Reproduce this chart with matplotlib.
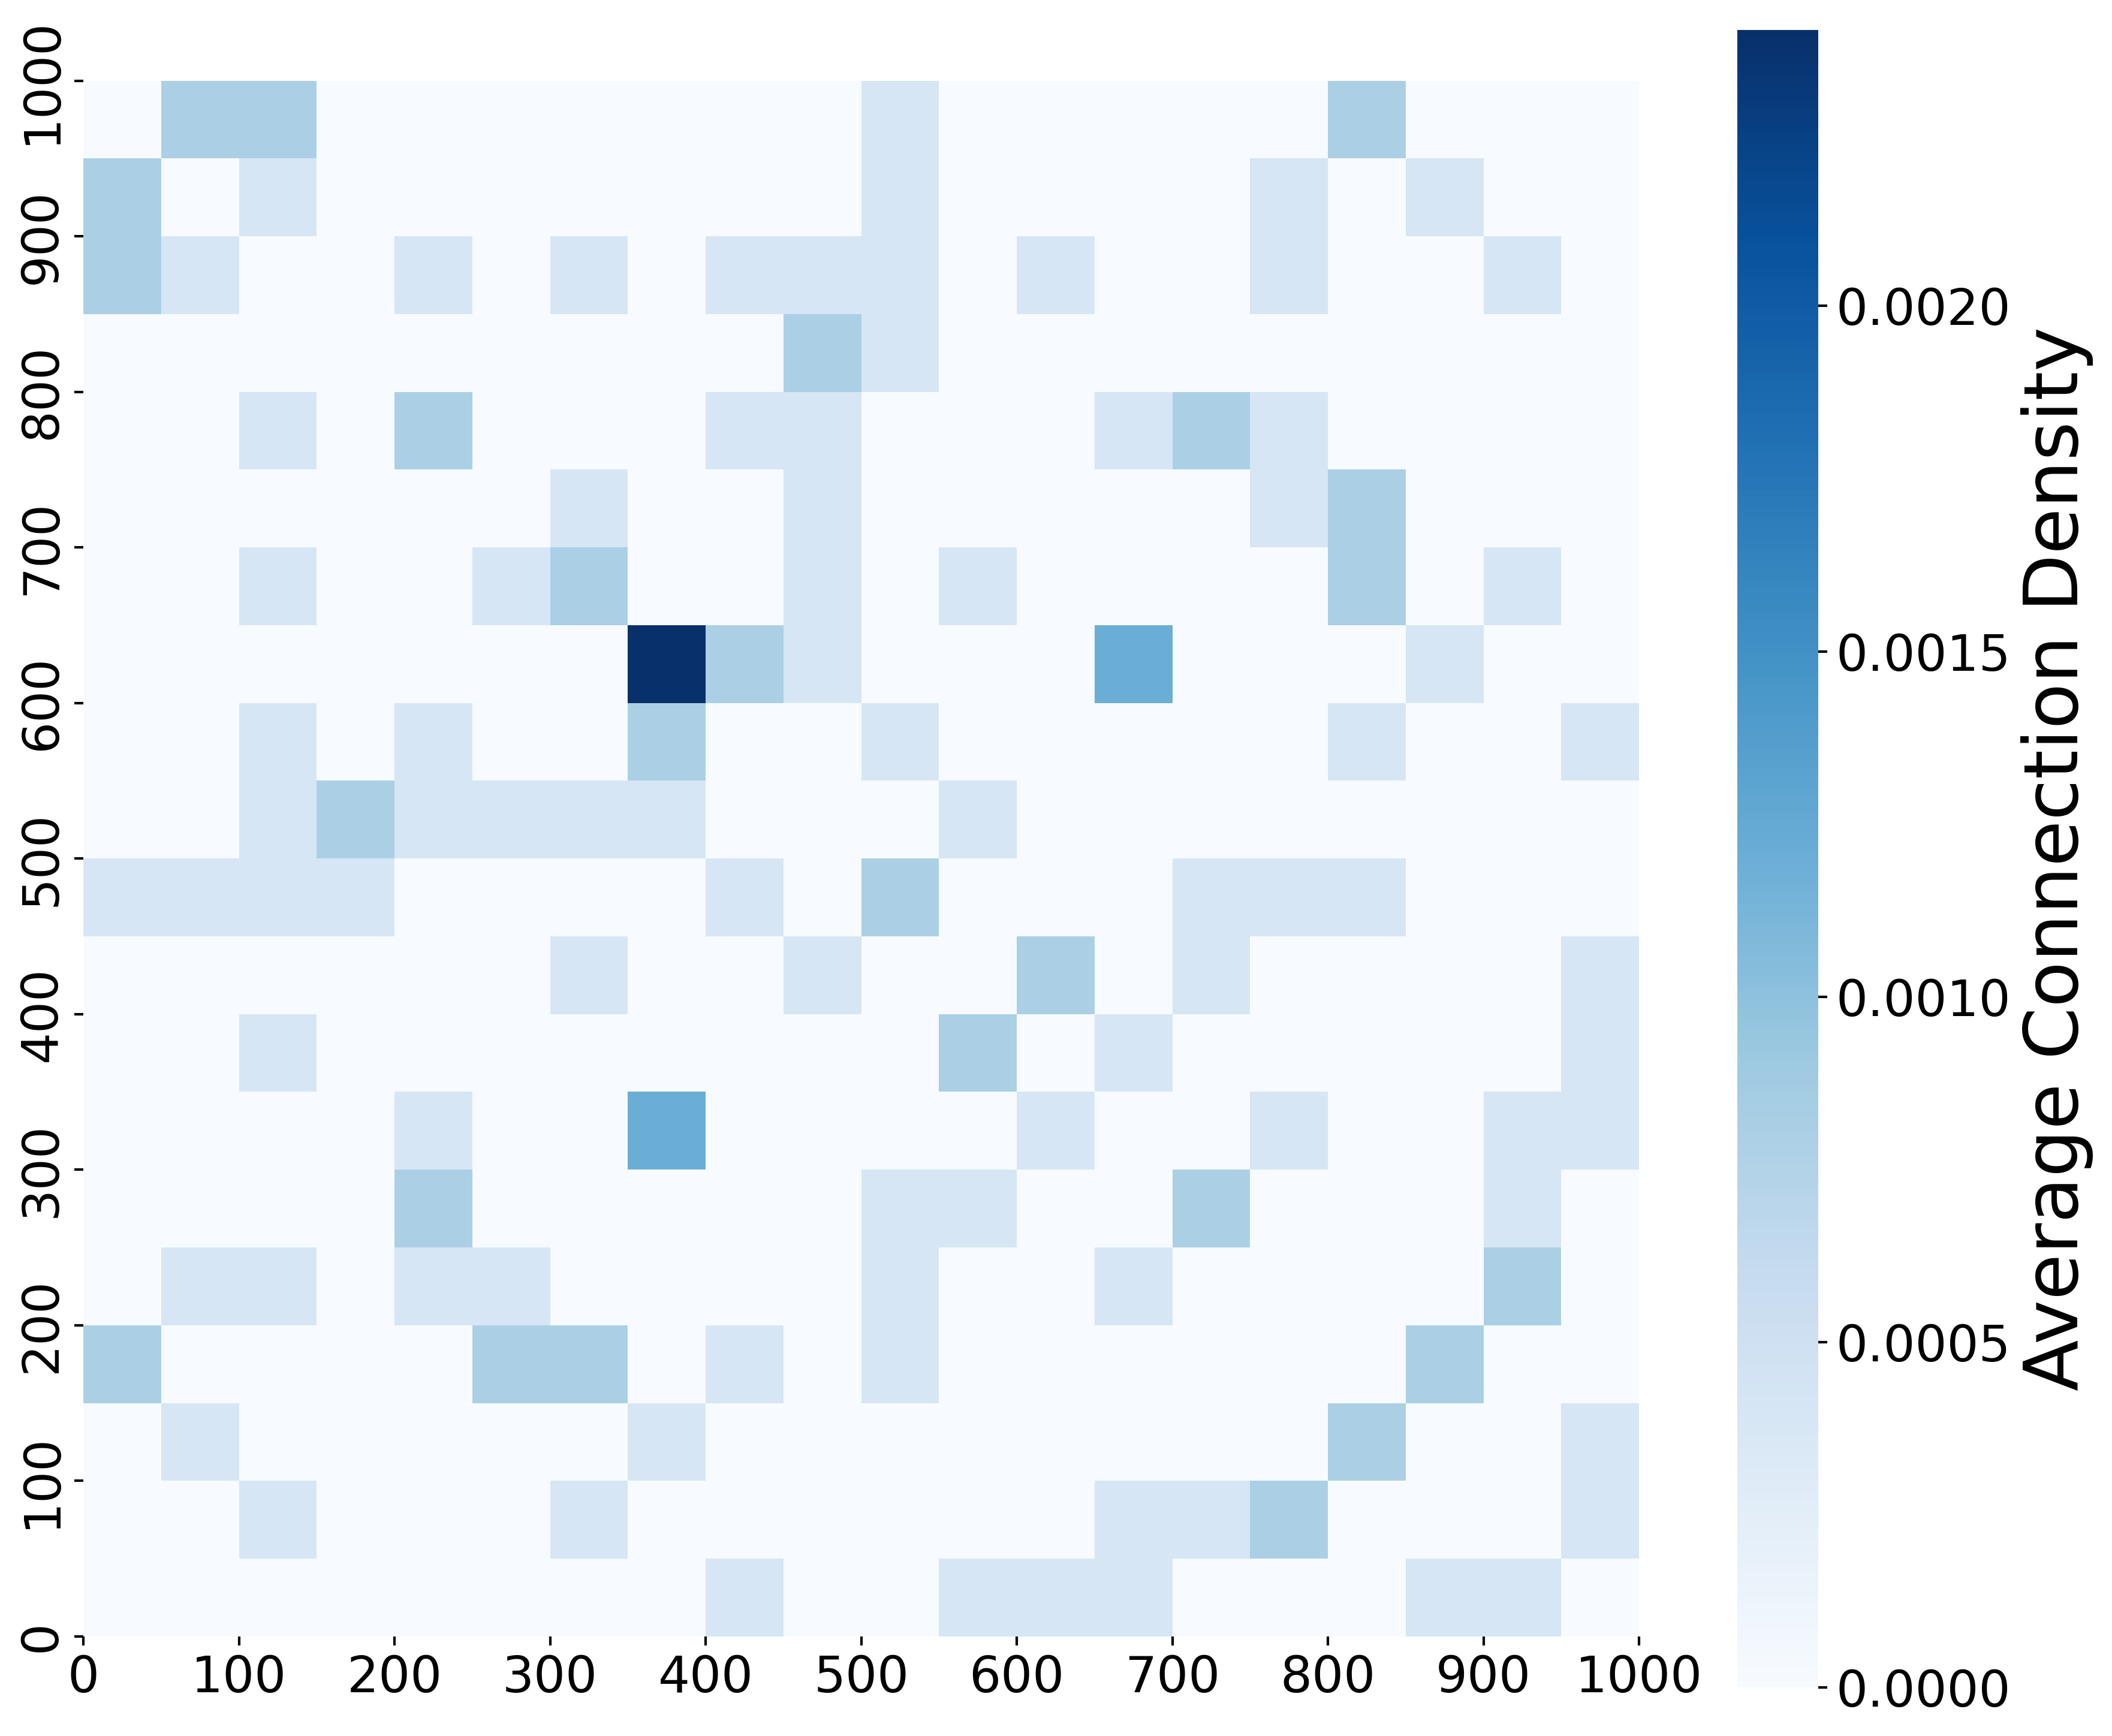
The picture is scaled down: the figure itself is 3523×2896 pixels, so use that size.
import numpy as np
import matplotlib
matplotlib.use("Agg")
import matplotlib.pyplot as plt
from matplotlib.ticker import FormatStrFormatter

# Grid edges (0..1000, bin width 50)
x_edges = np.arange(0, 1001, 50)
y_edges = np.arange(0, 1001, 50)

# Connection counts per cell, rows listed from top (y=950-1000) to bottom (y=0-50)
count_rows = [
    "02200000001000002000",
    "20100000001000010100",
    "21001010111010010010",
    "00000000021000000000",
    "00102000110001210000",
    "00000010010000012000",
    "00100120010100002010",
    "00000006210003000100",
    "00101002001000001001",
    "00121111000100000000",
    "11110000102000111000",
    "00000010010020100001",
    "00100000000201000001",
    "00001003000010010011",
    "00002000001100200010",
    "01101100001001000020",
    "20000220101000000200",
    "01000001000000002001",
    "00100010000001120001",
    "00000000100111000110",
]
density_per_connection = 0.0004
cbar_ticks = [0.0, 0.0005, 0.0010, 0.0015, 0.0020]
axis_ticks = list(range(0, 1001, 100))
cbar_label = "Average Connection Density"

counts = np.array([[int(c) for c in r] for r in count_rows], dtype=float)
Z = np.flipud(counts) * density_per_connection

W, H = 3523, 2896
fig = plt.figure(figsize=(W / 300, H / 300), dpi=300)
ax = fig.add_axes([0.0395, 0.0574, 0.7366, 0.8961])
cax = fig.add_axes([0.8227, 0.0279, 0.0383, 0.9550])

mesh = ax.pcolormesh(x_edges, y_edges, Z, cmap="Blues", vmin=0, vmax=Z.max())
ax.set_xlim(0, 1000)
ax.set_ylim(0, 1000)
ax.set_xticks(axis_ticks)
ax.set_yticks(axis_ticks)
ax.tick_params(axis="both", labelsize=20, length=3.5, width=1.0)
for lbl in ax.get_yticklabels():
    lbl.set_rotation(90)
    lbl.set_va("center")
for s in ax.spines.values():
    s.set_visible(False)

cb = fig.colorbar(mesh, cax=cax)
cb.outline.set_visible(False)
cb.set_ticks(cbar_ticks)
cb.ax.yaxis.set_major_formatter(FormatStrFormatter("%.4f"))
cb.ax.tick_params(labelsize=20, length=3.5, width=1.0)
cb.set_label(cbar_label, fontsize=30)

fig.savefig("out.png", dpi=300)
